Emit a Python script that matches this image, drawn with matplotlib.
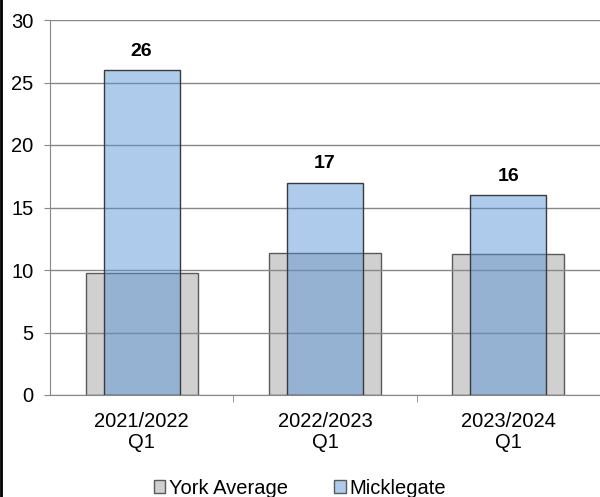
import numpy as np
import matplotlib.pyplot as plt
from matplotlib.patches import Patch
from matplotlib.lines import Line2D

plt.rcParams['font.family'] = ['Liberation Sans', 'DejaVu Sans']

# Data
categories = ['2021/2022\nQ1', '2022/2023\nQ1', '2023/2024\nQ1']
york_average = [9.8, 11.4, 11.3]
micklegate = [26, 17, 16]

fs = 14.5
grey = '#d0d0d0'
blue = (83/255, 145/255, 213/255, 0.47)

fig = plt.figure(figsize=(6.0, 4.97), dpi=100)
ax = fig.add_axes([50/600, 1 - 395/497, 550/600, 375/497])

x = np.arange(len(categories))
ax.bar(x, york_average, width=0.61, color=grey, edgecolor='#5a5a5a',
       linewidth=1, zorder=2)
ax.bar(x, micklegate, width=0.415, color=blue, edgecolor='#3a3a3a',
       linewidth=1, zorder=3)

# Labels on Micklegate bars
for xi, v in zip(x, micklegate):
  ax.text(xi, v + 0.8, f'{v}', ha='center', va='bottom', fontsize=fs - 0.5,
          fontweight='bold')

ax.set_xlim(-0.5, 2.5)
ax.set_ylim(0, 30)
ax.set_yticks(range(0, 31, 5))
ax.yaxis.grid(True, color='#888888', linewidth=1, zorder=4)
ax.set_axisbelow(False)
ax.set_xticks(x)
ax.set_xticklabels(categories, fontsize=fs, linespacing=1.15)
ax.set_xticks([0.5, 1.5], minor=True)
ax.tick_params(axis='x', which='major', length=0, pad=12)
ax.tick_params(axis='x', which='minor', length=5, color='#888888')
ax.tick_params(axis='y', length=4, color='#888888', labelsize=fs, pad=8)

for s in ['top', 'right']:
  ax.spines[s].set_visible(False)
ax.spines['left'].set_color('#888888')
ax.spines['bottom'].set_color('#888888')

handles = [Patch(facecolor=grey, edgecolor='#5a5a5a', label='York Average'),
           Patch(facecolor='#aecbeb', edgecolor='#5a5a5a', label='Micklegate')]
fig.legend(handles=handles, loc='center', bbox_to_anchor=(0.5, 0.018),
           ncol=2, frameon=False, fontsize=fs, handlelength=0.57,
           handleheight=0.57, handletextpad=0.2, columnspacing=2.3,
           borderpad=0, borderaxespad=0)

# Left border of the chart
fig.add_artist(Line2D([0.002, 0.002], [0, 1], color='black', linewidth=2))

fig.savefig('out.png', dpi=100)
